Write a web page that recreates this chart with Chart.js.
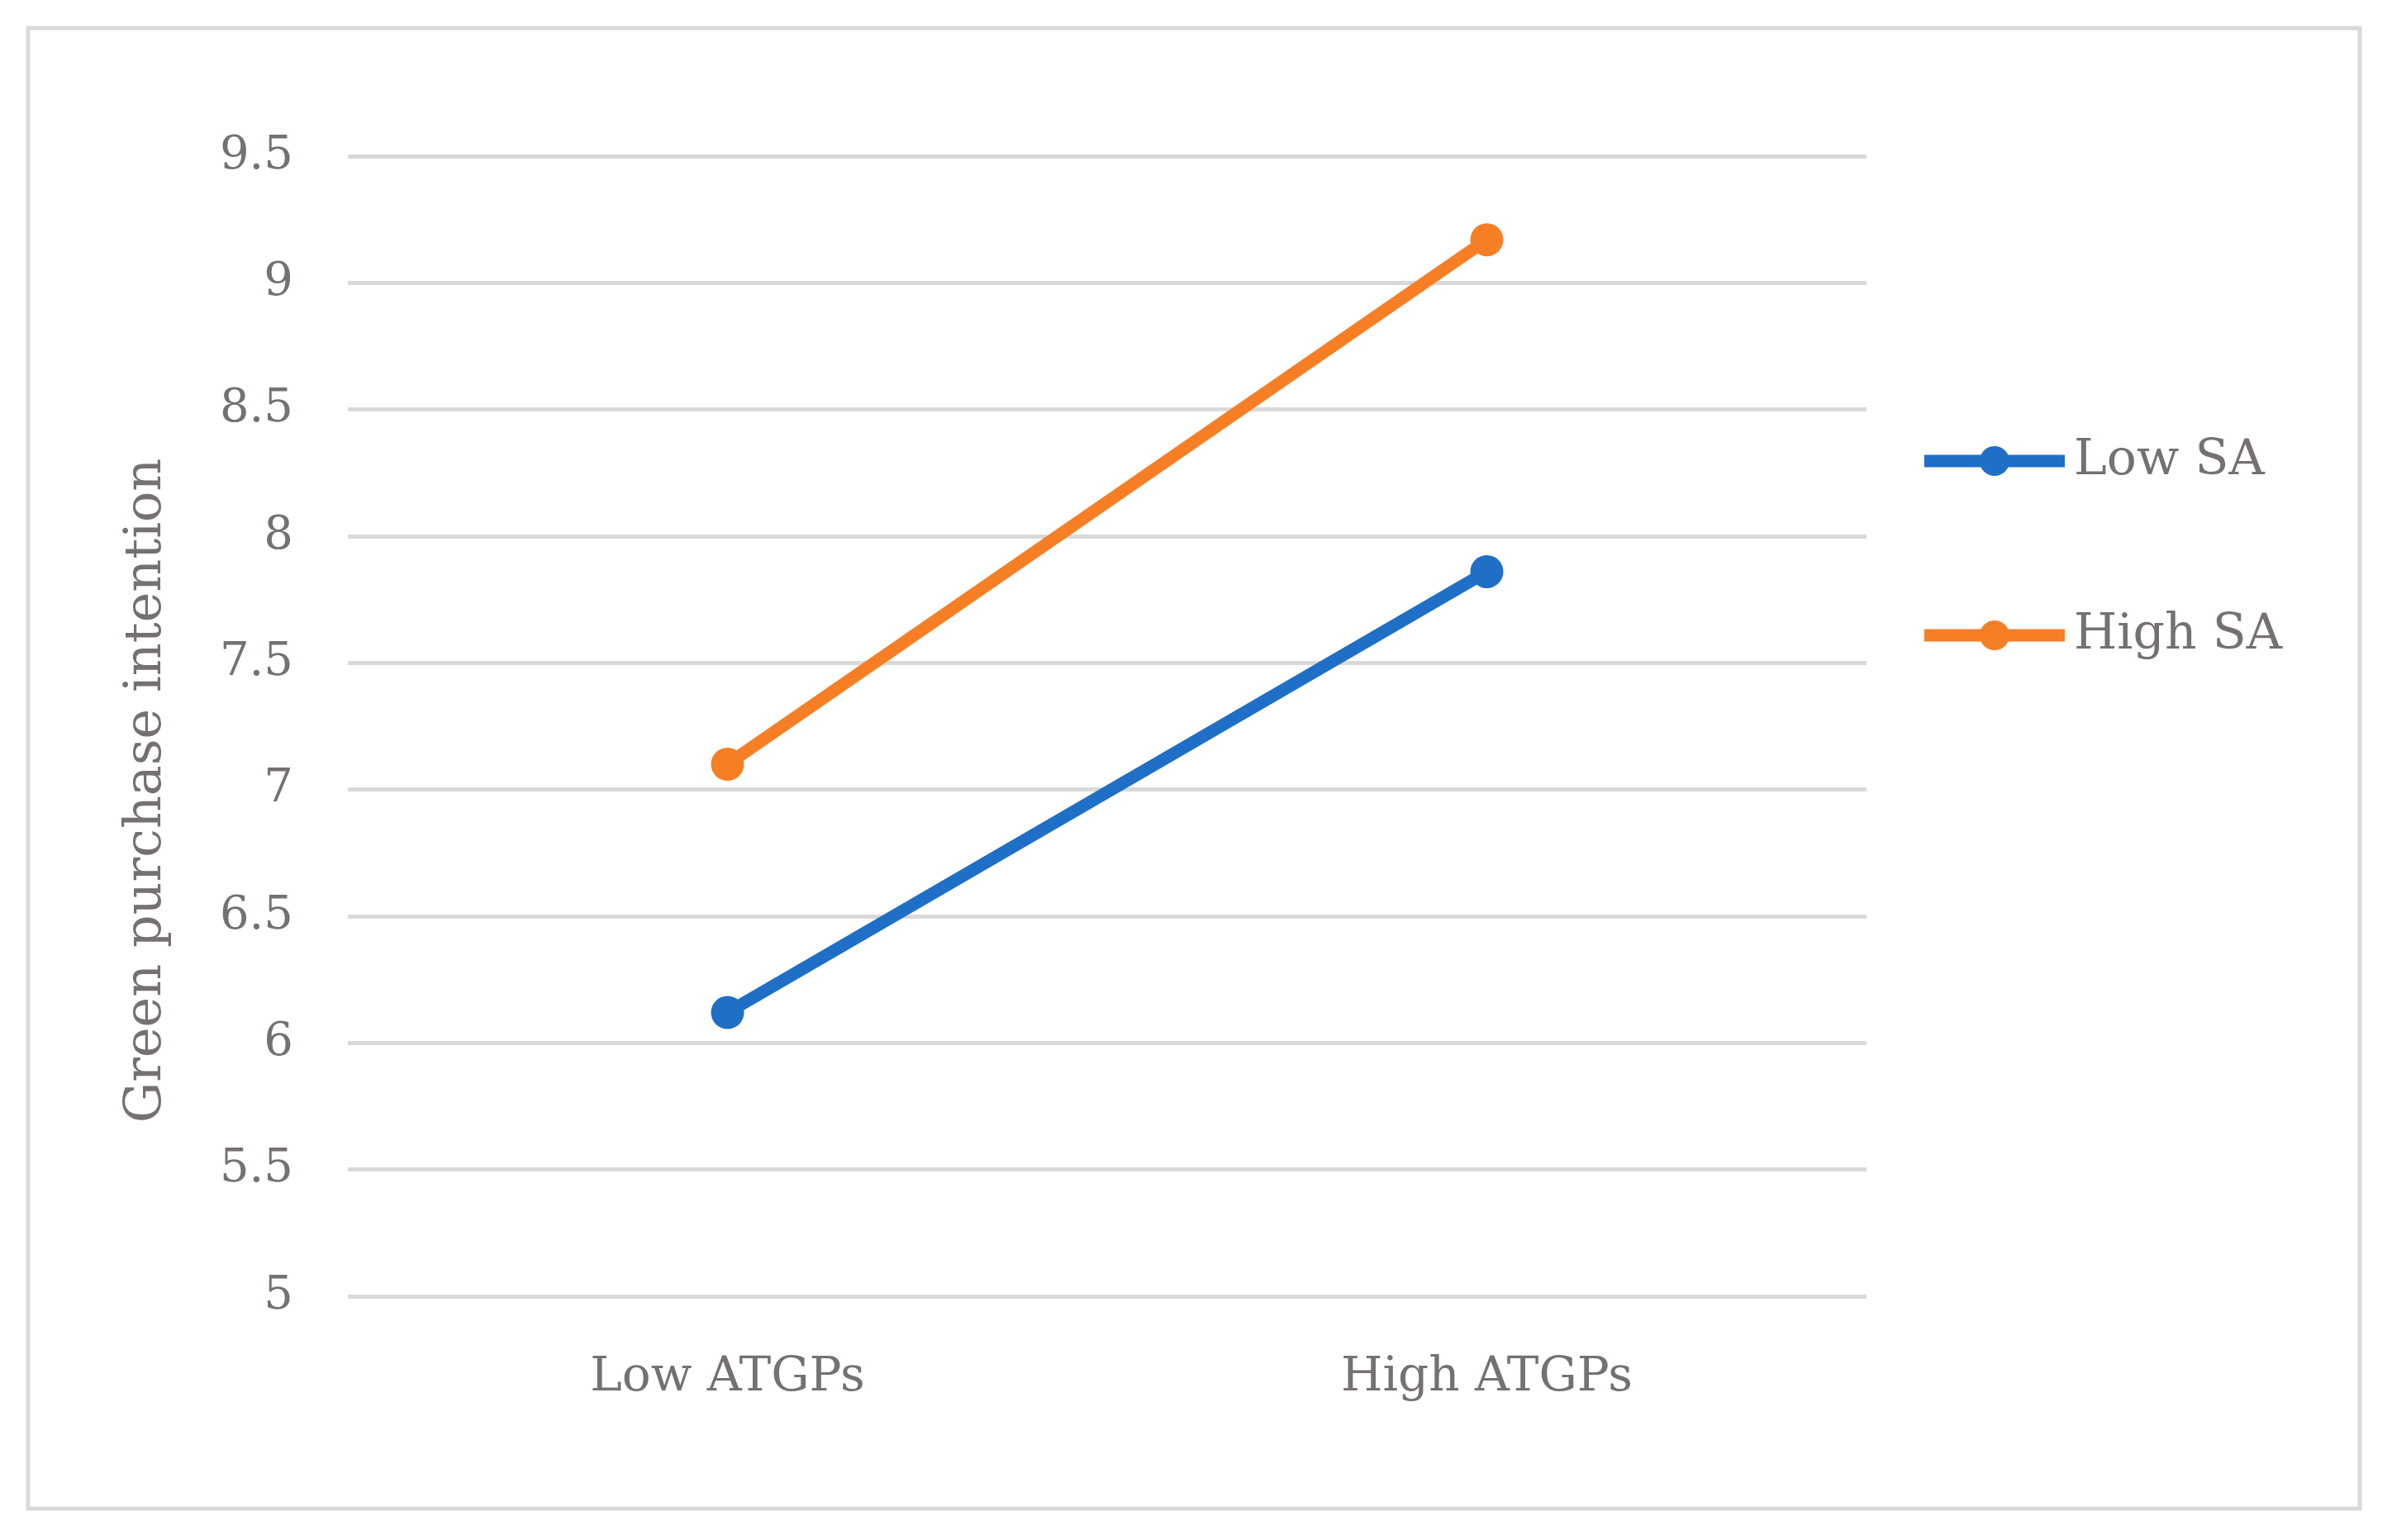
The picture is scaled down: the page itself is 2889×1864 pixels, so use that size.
<!DOCTYPE html>
<html><head><meta charset="utf-8">
<script src="https://cdn.jsdelivr.net/npm/chart.js@4/dist/chart.umd.min.js"></script>
<style>html,body{margin:0;background:#fff}#c{display:block}</style>
</head><body>
<canvas id="c" width="2889" height="1864"></canvas>
<script>
const categories = ["Low ATGPs", "High ATGPs"];
const seriesNames = ["Low SA", "High SA"];
const lowSA = [6.12, 7.86];
const highSA = [7.10, 9.17];
const yTitle = "Green purchase intention";
const colours = ["#1f6fc6", "#f67f26"];
const grey = "#767171";
const font = "'DejaVu Serif', 'Liberation Serif', serif";

// frame, y title and legend drawn by hand
const framePlugin = {
  id: "frame",
  beforeDraw(chart) {
    const ctx = chart.ctx;
    ctx.save();
    ctx.fillStyle = "#fff";
    ctx.fillRect(0, 0, chart.width, chart.height);
    ctx.strokeStyle = "#d9d9d9";
    ctx.lineWidth = 5;
    ctx.strokeRect(34, 34, 2822, 1792);
    ctx.restore();
  },
  afterDraw(chart) {
    const ctx = chart.ctx;
    ctx.save();
    ctx.fillStyle = grey;
    ctx.font = "62px " + font;
    ctx.textAlign = "center";
    ctx.textBaseline = "middle";
    ctx.translate(178, 957);
    ctx.rotate(-Math.PI / 2);
    ctx.fillText(yTitle, 0, 0);
    ctx.restore();

    ctx.save();
    const ys = [558, 769];
    chart.data.datasets.forEach((ds, i) => {
      ctx.strokeStyle = ds.borderColor;
      ctx.lineWidth = 15;
      ctx.beginPath();
      ctx.moveTo(2329, ys[i]);
      ctx.lineTo(2499, ys[i]);
      ctx.stroke();
      ctx.fillStyle = ds.borderColor;
      ctx.beginPath();
      ctx.arc(2414, ys[i], 18, 0, Math.PI * 2);
      ctx.fill();
      ctx.fillStyle = grey;
      ctx.font = "60px " + font;
      ctx.textBaseline = "middle";
      ctx.fillText(ds.label, 2510, ys[i]);
    });
    ctx.restore();
  }
};

new Chart("c", {
  type: "line",
  data: {
    labels: categories,
    datasets: [
      { label: seriesNames[0], data: lowSA, borderColor: colours[0], backgroundColor: colours[0] },
      { label: seriesNames[1], data: highSA, borderColor: colours[1], backgroundColor: colours[1] }
    ]
  },
  options: {
    responsive: false,
    animation: false,
    elements: {
      line: { borderWidth: 15, tension: 0 },
      point: { radius: 20, borderWidth: 0 }
    },
    layout: { padding: { top: 189, right: 630, left: 0, bottom: 0 } },
    plugins: { legend: { display: false }, tooltip: { enabled: false } },
    scales: {
      x: {
        offset: true,
        grid: { display: false },
        border: { display: false },
        ticks: { color: grey, font: { family: font, size: 58 }, padding: 56 },
        afterFit(s) { s.height = 295; }
      },
      y: {
        min: 5, max: 9.5,
        ticks: { stepSize: 0.5, color: grey, font: { family: font, size: 56 }, padding: 66,
                 callback: v => String(v) },
        grid: { color: "#d9d9d9", lineWidth: 5, drawTicks: false },
        border: { display: false },
        afterFit(s) { s.width = 421; }
      }
    }
  },
  plugins: [framePlugin]
});
</script>
</body></html>
